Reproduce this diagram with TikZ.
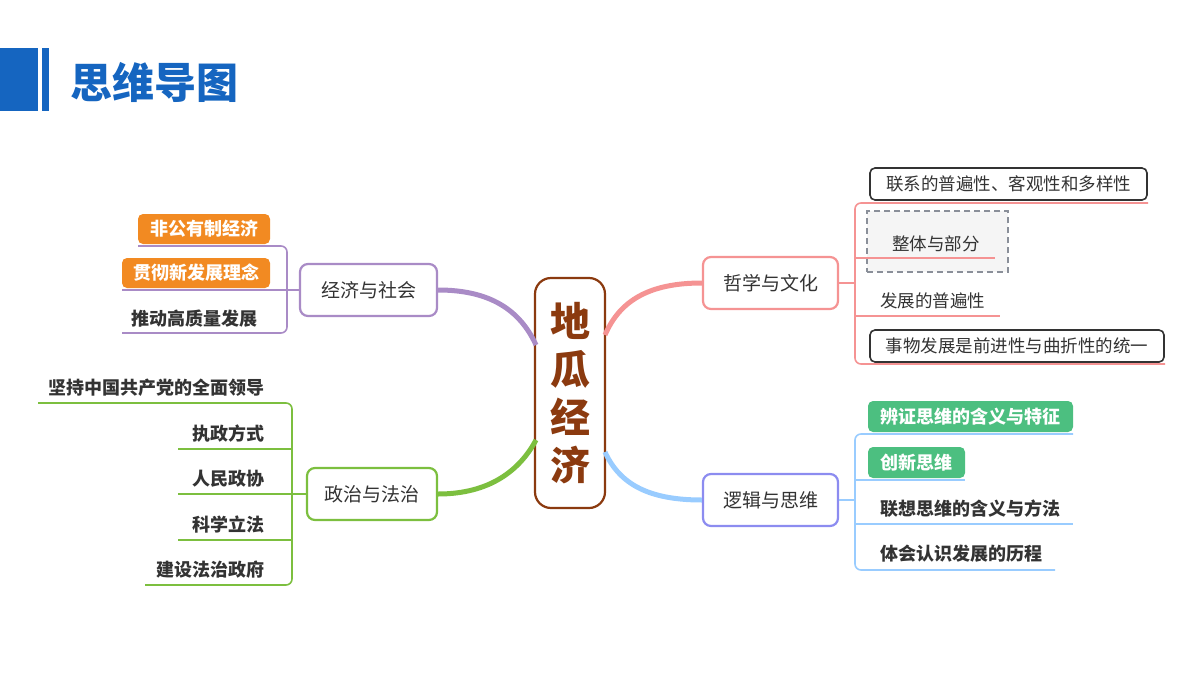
\documentclass[tikz,border=0pt]{standalone}
\usepackage{fontspec}
\setmainfont{Noto Sans CJK SC}
\begin{document}
\begin{tikzpicture}[x=1pt,y=-1pt,
  l1/.style={draw,line width=2.2pt,rounded corners=8pt,fill=white,minimum height=52pt,font=\fontsize{19}{19}\selectfont,text=txt},
  leaf/.style={font=\fontsize{18}{18}\selectfont\bfseries,text=txt,anchor=base east,inner sep=0},
  rleaf/.style={font=\fontsize{17.5}{17.5}\selectfont,text=txt,anchor=base west,inner sep=0},
  obox/.style={fill=orng,rounded corners=5pt,text=white,font=\fontsize{18}{18}\selectfont\bfseries,minimum height=30pt,inner sep=0},
  gbox/.style={fill=grn,rounded corners=5pt,text=white,font=\fontsize{18}{18}\selectfont\bfseries,minimum height=31pt,inner sep=0},
  kbox/.style={draw=txt,line width=1.6pt,rounded corners=5pt,fill=white,text=txt,font=\fontsize{17.5}{17.5}\selectfont,minimum height=32pt,inner sep=0},
  br/.style={line width=1.6pt,rounded corners=6pt},
  trunk/.style={line width=5pt}]
\definecolor{hblue}{HTML}{1565C0}
\definecolor{txt}{HTML}{333333}
\definecolor{brn}{HTML}{8B3A0F}
\definecolor{pur}{HTML}{A98BC6}
\definecolor{gre}{HTML}{7CBF3F}
\definecolor{pnk}{HTML}{F59393}
\definecolor{lbl}{HTML}{99CCFF}
\definecolor{vio}{HTML}{8C8CF0}
\definecolor{orng}{HTML}{F28A22}
\definecolor{grn}{HTML}{4CBF80}
\definecolor{dgr}{HTML}{8A8F99}
\useasboundingbox (0,0) rectangle (1200,675);
% header
\fill[hblue] (0,48) rectangle (38,111);
\fill[hblue] (42,48) rectangle (49,111);
\node[anchor=west,text=hblue,font=\fontsize{42}{42}\selectfont\bfseries,inner sep=0] (title) at (70,82) {思维导图};
% center
\node[draw=brn,line width=2.2pt,rounded corners=16pt,fill=white,minimum width=70pt,minimum height=230pt,text=brn,font=\fontsize{40}{48}\selectfont\bfseries,align=center] (c) at (570,393) {地\\瓜\\经\\济};
% level 1
\node[l1,draw=pur,minimum width=137pt] (eco) at (368.5,290) {经济与社会};
\node[l1,draw=gre,minimum width=130pt] (pol) at (372,494) {政治与法治};
\node[l1,draw=pnk,minimum width=135pt] (phi) at (770.5,283) {哲学与文化};
\node[l1,draw=vio,minimum width=135pt] (log) at (770.5,500) {逻辑与思维};
\draw[trunk,pur] (eco.east) .. controls (490,290) and (520,310) .. (536,345);
\draw[trunk,gre] (pol.east) .. controls (490,494) and (520,470) .. (536,440);
\draw[trunk,pnk] (phi.west) .. controls (650,283) and (620,300) .. (605,335);
\draw[trunk,lbl] (log.west) .. controls (650,500) and (620,485) .. (605,452);
% economy leaves
\node[obox,minimum width=132pt] (e1) at (204,229) {非公有制经济};
\node[obox,minimum width=148pt] (e2) at (196,273) {贯彻新发展理念};
\node[leaf] (e3) at (258,325) {推动高质量发展};
\coordinate (e1l) at (138,246); \coordinate (e2l) at (122,290); \coordinate (e3l) at (122,333);
\draw[br,pur] (e1l) -- (287,246) -- (287,333) -- (e3l);
\draw[br,pur] (e2l) -- (eco.west);
% politics leaves
\node[leaf] (p1) at (265,394) {坚持中国共产党的全面领导};
\node[leaf] (p2) at (265,440) {执政方式};
\node[leaf] (p3) at (265,485) {人民政协};
\node[leaf] (p4) at (265,531) {科学立法};
\node[leaf] (p5) at (265,576) {建设法治政府};
\coordinate (p1l) at (38,403); \coordinate (p2l) at (178,449); \coordinate (p3l) at (178,494);
\coordinate (p4l) at (178,540); \coordinate (p5l) at (145,585);
\draw[br,gre] (p1l) -- (292,403) -- (292,585) -- (p5l);
\draw[br,gre] (p2l) -- (292,449);
\draw[br,gre] (p4l) -- (292,540);
\draw[br,gre] (p3l) -- (pol.west);
% philosophy leaves
\node[kbox,minimum width=277pt] (h1) at (1008.5,184) {联系的普遍性、客观性和多样性};
\node[draw=dgr,dashed,dash pattern=on 6pt off 4pt,line width=1.8pt,fill=gray!8,minimum width=141pt,minimum height=61pt] (h2) at (937.5,241.5) {};
\node[rleaf] (h2t) at (892,250) {整体与部分};
\node[rleaf] (h3) at (880,307) {发展的普遍性};
\node[kbox,minimum width=294pt] (h4) at (1017,346) {事物发展是前进性与曲折性的统一};
\coordinate (h1r) at (1148,203); \coordinate (h2r) at (995,258); \coordinate (h3r) at (1000,316); \coordinate (h4r) at (1165,364);
\draw[br,pnk] (h1r) -- (855,203) -- (855,364) -- (h4r);
\draw[br,pnk] (855,258) -- (h2r);
\draw[br,pnk] (855,316) -- (h3r);
\draw[br,pnk] (phi.east) -- (855,283);
% logic leaves
\node[gbox,minimum width=205pt] (g1) at (970.5,416.5) {辨证思维的含义与特征};
\node[gbox,minimum width=97pt] (g2) at (916.5,462.5) {创新思维};
\node[rleaf,font=\fontsize{18}{18}\selectfont\bfseries] (g3) at (880,515) {联想思维的含义与方法};
\node[rleaf,font=\fontsize{18}{18}\selectfont\bfseries] (g4) at (880,560) {体会认识发展的历程};
\coordinate (g1r) at (1073,434); \coordinate (g2r) at (965,480); \coordinate (g3r) at (1073,524); \coordinate (g4r) at (1055,570);
\draw[br,lbl] (g1r) -- (855,434) -- (855,570) -- (g4r);
\draw[br,lbl] (855,480) -- (g2r);
\draw[br,lbl] (855,524) -- (g3r);
\draw[br,lbl] (log.east) -- (855,500);
\end{tikzpicture}
\end{document}
